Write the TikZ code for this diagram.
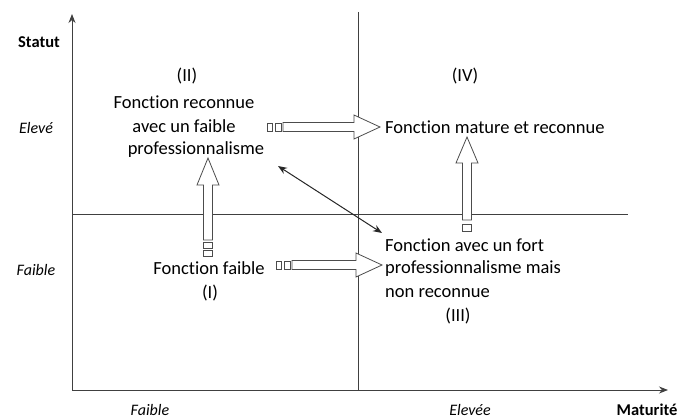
\documentclass[tikz,border=0pt]{standalone}
\usepackage{fontspec}
\setmainfont{Carlito}[Ligatures={NoCommon}]
\usetikzlibrary{arrows.meta}
\begin{document}
\begin{tikzpicture}[x=1pt,y=-1pt,
  axis/.style={draw=black!75, line width=0.9pt},
  divline/.style={draw=black!75, line width=0.8pt},
  blk/.style={draw=black!70, line width=0.8pt, fill=white, line join=miter},
  txt/.style={inner sep=0pt, font=\fontsize{18.5}{22}\selectfont},
  axl/.style={inner sep=0pt, font=\fontsize{16.5}{19}\selectfont\bfseries},
  lvl/.style={inner sep=0pt, font=\fontsize{16}{19}\selectfont\itshape},
  dbl/.style={draw=black!85, line width=1pt, {Stealth[length=9pt,width=7pt]}-{Stealth[length=9pt,width=7pt]}}]
\useasboundingbox (0,0) rectangle (681,420);
% axes
\coordinate (O) at (72,390);
\coordinate (Ytop) at (72,14);
\coordinate (Xend) at (668,390);
\draw[axis,-{Stealth[length=9pt,width=7pt]}] (O) -- (Ytop);
\draw[axis,-{Stealth[length=9pt,width=7pt]}] (O) -- (Xend);
% dividers
\coordinate (Vt) at (358,12);
\coordinate (Vb) at (358,390);
\coordinate (Hl) at (72,214);
\coordinate (Hr) at (628,214);
\draw[divline] (Vt) -- (Vb);
\draw[divline] (Hl) -- (Hr);
% axis labels
\node[axl] (statut) at (39,42) {Statut};
\node[axl] (maturite) at (647,410) {Maturité};
\node[lvl] (eleve) at (36,128) {Elevé};
\node[lvl] (faibley) at (36,270) {Faible};
\node[lvl] (faiblex) at (150,410) {Faible};
\node[lvl] (elevee) at (470,410) {Elevée};
% quadrant texts
\node[txt] (II) at (187,76) {(II)};
\node[txt] (q2a) at (184,102) {Fonction reconnue};
\node[txt] (q2b) at (184,126) {avec un faible};
\node[txt] (q2c) at (196,150) {professionnalisme};
\node[txt] (IV) at (465,76) {(IV)};
\node[txt,anchor=west] (q4) at (385,127) {Fonction mature et reconnue};
\node[txt] (q1) at (209,268) {Fonction faible};
\node[txt] (I) at (210,293) {(I)};
\node[txt,anchor=west] (q3a) at (385,245) {Fonction avec un fort};
\node[txt,anchor=west] (q3b) at (385,269) {professionnalisme mais};
\node[txt,anchor=west] (q3c) at (385,293) {non reconnue};
\node[txt] (III) at (458,316) {(III)};
% double arrow
\coordinate (d1) at (278,166);
\coordinate (d2) at (382,233);
\draw[dbl] (d1) -- (d2);
% top horizontal block arrow (y=127)
\draw[blk] (267,123) rectangle (272,131);
\draw[blk] (275,123) rectangle (281,131);
\draw[blk] (283,122.5) -- (354,122.5) -- (354,115) -- (380,127) -- (354,139) -- (354,131.5) -- (283,131.5) -- cycle;
% bottom horizontal block arrow (y=265)
\draw[blk] (276,261) rectangle (281,269);
\draw[blk] (284,261) rectangle (290,269);
\draw[blk] (292,260.5) -- (356,260.5) -- (356,253) -- (382,265) -- (356,277) -- (356,269.5) -- (292,269.5) -- cycle;
% left vertical block arrow (x=208)
\draw[blk] (203.5,242) rectangle (212.5,248);
\draw[blk] (203.5,250) rectangle (212.5,256);
\draw[blk] (203.5,240) -- (203.5,185) -- (197,185) -- (208,158) -- (219,185) -- (212.5,185) -- (212.5,240) -- cycle;
% right vertical block arrow (x=467)
\draw[blk] (462.5,224) rectangle (471.5,231);
\draw[blk] (462.5,220) -- (462.5,163) -- (456,163) -- (467,137) -- (478,163) -- (471.5,163) -- (471.5,220) -- cycle;
\end{tikzpicture}
\end{document}
